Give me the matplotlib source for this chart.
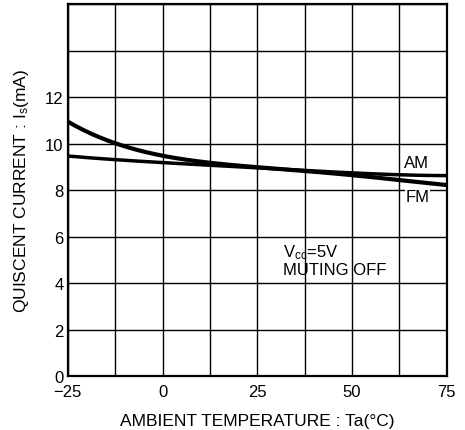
import matplotlib
matplotlib.use("Agg")
import matplotlib.pyplot as plt
import numpy as np

plt.rcParams["font.family"] = ["Liberation Sans", "DejaVu Sans"]
plt.rcParams["mathtext.fontset"] = "custom"
plt.rcParams["mathtext.rm"] = "Liberation Sans"
plt.rcParams["mathtext.it"] = "Liberation Sans"

# ambient temperature (deg C)
temp = [-25, -12.5, 0, 12.5, 25, 37.5, 50, 62.5, 75]
# quiescent current (mA)
fm_current = [10.95, 10.0, 9.5, 9.18, 8.97, 8.83, 8.65, 8.43, 8.22]
am_current = [9.47, 9.31, 9.18, 9.07, 8.98, 8.83, 8.73, 8.68, 8.62]

x_grid = np.arange(-25, 75.1, 12.5)
y_grid = np.arange(0, 16.1, 2)
x_labels = {-25: "\u221225", 0: "0", 25: "25", 50: "50", 75: "75"}
y_labels = [0, 2, 4, 6, 8, 10, 12]

fig = plt.figure(figsize=(4.65, 4.31), dpi=100)
ax = fig.add_axes([0.146, 0.125, 0.815, 0.863])

# smooth the curves a bit
def smooth(xs, ys):
    xs = np.asarray(xs, float)
    ys = np.asarray(ys, float)
    xf = np.linspace(xs[0], xs[-1], 200)
    coef = np.polyfit(xs, ys, 4)
    return xf, np.polyval(coef, xf)

xf, yf = smooth(temp, fm_current)
ax.plot(xf, yf, color="black", lw=3.0, solid_capstyle="butt")
xa, ya = smooth(temp, am_current)
ax.plot(xa, ya, color="black", lw=2.5, solid_capstyle="butt")

ax.set_xlim(-25, 75)
ax.set_ylim(0, 16)
ax.set_xticks(x_grid)
ax.set_xticklabels([x_labels.get(v, "") if float(v).is_integer() else "" for v in x_grid])
ax.set_yticks(y_grid)
ax.set_yticklabels([str(int(v)) if v in y_labels else "" for v in y_grid])
ax.tick_params(length=0, labelsize=12)
ax.tick_params(axis="x", pad=6)
ax.tick_params(axis="y", pad=3)
ax.grid(True, color="black", lw=1.0)
ax.set_axisbelow(True)
for s in ax.spines.values():
    s.set_linewidth(1.6)

ax.text(63.6, 9.18, "AM", fontsize=12, va="center")
ax.text(64, 7.72, "FM", fontsize=12, va="center",
        bbox=dict(facecolor="white", edgecolor="none", pad=0.5))
ax.text(31.7, 5.36, r"V$_{\rm cc}$=5V", fontsize=12, va="center")
ax.text(31.7, 4.59, "MUTING OFF", fontsize=12, va="center")

ax.set_xlabel("AMBIENT TEMPERATURE : Ta(\u00b0C)", fontsize=12.5, labelpad=10)
ax.set_ylabel(r"QUISCENT CURRENT : I$_{\rm s}$(mA)", fontsize=12.5, labelpad=10)

fig.savefig("out.png", dpi=100)
